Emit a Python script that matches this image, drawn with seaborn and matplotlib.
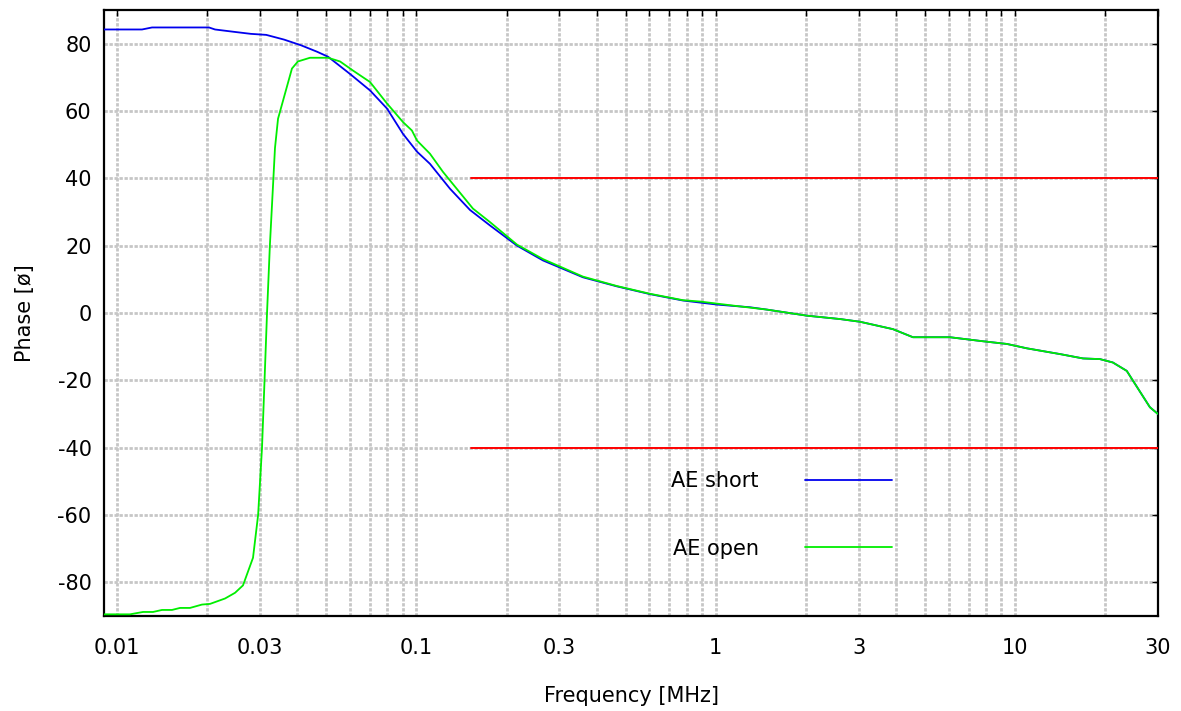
import numpy as np
import pandas as pd
import matplotlib
matplotlib.use("Agg")
import matplotlib.pyplot as plt
import seaborn as sns
from matplotlib.ticker import LogLocator, FixedLocator, FixedFormatter, NullFormatter

# ---------------- data ----------------
freq_short = [0.00905, 0.01212, 0.01309, 0.02029, 0.02125, 0.0246, 0.028, 0.0315, 0.03613,
              0.0412, 0.04656, 0.0507, 0.06, 0.07, 0.0798, 0.0902, 0.1005, 0.111, 0.1295,
              0.151, 0.1761, 0.2168, 0.2648, 0.36, 0.4677, 0.603, 0.777, 1.009, 1.301,
              1.483, 2.017, 2.6, 3.03, 3.906, 4.557, 6.056, 7.81, 9.39, 10.95, 14.11,
              16.85, 19.2, 21.2, 23.6, 24.75, 28.2, 30.0]
phase_short = [84.2, 84.2, 84.8, 84.8, 84.2, 83.5, 82.9, 82.6, 81.2,
               79.5, 77.6, 76.1, 71.0, 66.1, 60.7, 53.2, 47.9, 44.3, 36.9,
               30.6, 26.0, 20.0, 15.6, 10.6, 7.9, 5.6, 3.7, 2.5, 1.7,
               1.0, -0.8, -1.8, -2.6, -4.8, -7.2, -7.2, -8.4, -9.2, -10.5, -12.2,
               -13.5, -13.7, -14.7, -17.2, -20.1, -28.0, -30.0]

freq_open = [0.00905, 0.01105, 0.01221, 0.01319, 0.01413, 0.01526, 0.01623, 0.01753,
             0.01922, 0.02045, 0.02295, 0.02479, 0.02635, 0.02846, 0.0296, 0.0305,
             0.0311, 0.0317, 0.0324, 0.0337, 0.0345, 0.0384, 0.0402, 0.0441, 0.0507,
             0.0556, 0.0614, 0.07, 0.0798, 0.0902, 0.0966, 0.1005, 0.111, 0.1227,
             0.1545, 0.1761, 0.2168, 0.2648, 0.36, 0.4677, 0.603, 0.777, 0.886, 1.141,
             1.483, 2.017, 2.6, 3.03, 3.906, 4.557, 6.056, 7.81, 9.39, 10.95, 14.11,
             16.85, 19.2, 21.2, 23.6, 24.75, 28.2, 30.0]
phase_open = [-89.5, -89.5, -88.8, -88.8, -88.2, -88.2, -87.6, -87.6,
              -86.6, -86.4, -84.8, -83.1, -80.9, -72.7, -60.0, -40.0,
              -20.0, 0.0, 20.0, 49.0, 57.7, 72.6, 74.7, 75.8, 75.8,
              74.7, 72.0, 68.6, 62.2, 56.7, 54.2, 51.2, 47.3, 41.9,
              31.0, 27.0, 20.3, 16.0, 10.8, 8.0, 5.7, 3.8, 3.4, 2.2,
              1.0, -0.8, -1.8, -2.6, -4.8, -7.2, -7.2, -8.4, -9.2, -10.5, -12.2,
              -13.5, -13.7, -14.7, -17.2, -20.1, -28.0, -30.0]

limit_freq = [0.152, 30.0]
limit_upper = [40, 40]
limit_lower = [-40, -40]

x_tick_values = [0.01, 0.03, 0.1, 0.3, 1, 3, 10, 30]
x_tick_labels = ["0.01", "0.03", "0.1", "0.3", "1", "3", "10", "30"]
y_tick_values = [-80, -60, -40, -20, 0, 20, 40, 60, 80]

# ---------------- style ----------------
sns.set_style("white")
plt.rcParams["font.family"] = ["DejaVu Sans"]
plt.rcParams["text.color"] = "black"
plt.rcParams["axes.labelcolor"] = "black"
FS = 15

fig = plt.figure(figsize=(11.81, 7.11), dpi=100)
ax = fig.add_axes([0.0881, 0.1336, 0.8924, 0.8524])

df_short = pd.DataFrame({"f": freq_short, "p": phase_short})
df_open = pd.DataFrame({"f": freq_open, "p": phase_open})
df_up = pd.DataFrame({"f": limit_freq, "p": limit_upper})
df_lo = pd.DataFrame({"f": limit_freq, "p": limit_lower})

sns.lineplot(data=df_up, x="f", y="p", color="#ff0000", lw=1.4, ax=ax, zorder=3)
sns.lineplot(data=df_lo, x="f", y="p", color="#ff0000", lw=1.4, ax=ax, zorder=3)
sns.lineplot(data=df_short, x="f", y="p", color="#0000ee", lw=1.3, ax=ax,
             label="AE short", zorder=4, sort=False)
sns.lineplot(data=df_open, x="f", y="p", color="#00ee00", lw=1.3, ax=ax,
             label="AE open", zorder=5, sort=False)

ax.set_xscale("log")
ax.set_xlim(0.00905, 30)
ax.set_ylim(-90, 90)

ax.xaxis.set_major_locator(FixedLocator(x_tick_values))
ax.xaxis.set_major_formatter(FixedFormatter(x_tick_labels))
ax.xaxis.set_minor_locator(LogLocator(base=10, subs=np.arange(1, 10), numticks=20))
ax.xaxis.set_minor_formatter(NullFormatter())
ax.set_yticks(y_tick_values)
ax.set_yticklabels([str(v) for v in y_tick_values])

ax.tick_params(axis="both", which="both", direction="in", top=True, right=True,
               length=4, width=1, colors="black", labelsize=FS)
ax.tick_params(axis="x", which="major", pad=16)
ax.tick_params(axis="y", which="major", pad=9)

grid_kw = dict(color="#c6c6c6", linestyle=(0, (1.2, 0.6)), linewidth=2.0)
ax.grid(True, which="major", axis="both", **grid_kw)
ax.grid(True, which="minor", axis="x", **grid_kw)
ax.set_axisbelow(True)

for s in ax.spines.values():
    s.set_color("black")
    s.set_linewidth(1.6)

ax.set_xlabel("Frequency [MHz]", fontsize=FS, labelpad=20, color="black")
ax.set_ylabel("Phase [ø]", fontsize=FS, labelpad=16, color="black")

leg = ax.legend(loc="center", bbox_to_anchor=(0.643, 0.167), frameon=False,
                markerfirst=False, fontsize=FS, handlelength=4.2,
                handletextpad=2.2, labelspacing=2.3)
for t in leg.get_texts():
    t.set_color("black")

fig.savefig("out.png", dpi=100)
